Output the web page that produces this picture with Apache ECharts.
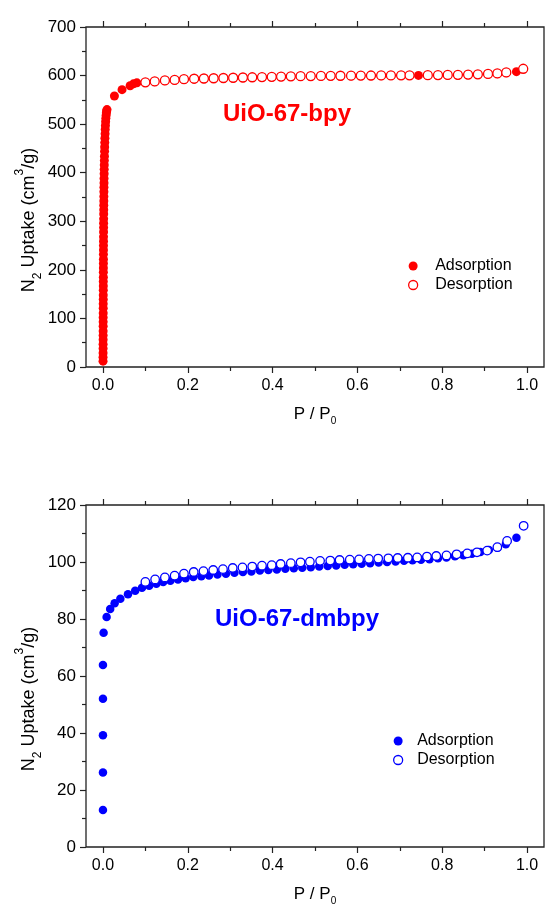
<!DOCTYPE html>
<html>
<head>
<meta charset="utf-8">
<script src="https://cdn.jsdelivr.net/npm/echarts@6/dist/echarts.min.js"></script>
<style>
  html, body { margin: 0; padding: 0; background: #fff; }
  #chart { width: 545px; height: 914px; }
</style>
</head>
<body>
<div id="chart"></div>
<script>
// N2 isotherms (77 K) for two UiO-67 frameworks

// UiO-67-bpy: adsorption branch
const bpyAdsP = [
  0.0002, 0.0002, 0.0003, 0.0003, 0.0003, 0.0004, 0.0004, 0.0004, 0.0005, 0.0005,
  0.0005, 0.0006, 0.0006, 0.0006, 0.0007, 0.0007, 0.0008, 0.0008, 0.0008, 0.0009,
  0.0009, 0.0010, 0.0010, 0.0011, 0.0011, 0.0012, 0.0012, 0.0013, 0.0013, 0.0014,
  0.0015, 0.0015, 0.0016, 0.0017, 0.0018, 0.0019, 0.0020, 0.0021, 0.0022, 0.0023,
  0.0025, 0.0026, 0.0028, 0.0029, 0.0031, 0.0033, 0.0035, 0.0038, 0.0040, 0.0043,
  0.0046, 0.0050, 0.0054, 0.0058, 0.0063, 0.0068, 0.0074, 0.0080, 0.0087, 0.0095,
  0.027, 0.045, 0.064, 0.072, 0.080,
  0.100, 0.122, 0.146, 0.169, 0.191, 0.215, 0.238, 0.261, 0.284, 0.307,
  0.330, 0.352, 0.375, 0.398, 0.420, 0.443, 0.466, 0.490, 0.514, 0.537,
  0.560, 0.585, 0.608, 0.632, 0.656, 0.679, 0.703, 0.723, 0.744, 0.766,
  0.790, 0.813, 0.837, 0.861, 0.884, 0.908, 0.930, 0.951, 0.975
];
const bpyAdsV = [
  12, 20, 29, 38, 47, 56, 65, 74, 84, 93,
  102, 111, 121, 130, 139, 148, 158, 167, 176, 185,
  195, 204, 213, 222, 232, 241, 250, 259, 268, 278,
  287, 296, 305, 315, 324, 333, 342, 351, 361, 370,
  379, 388, 398, 407, 416, 425, 434, 444, 453, 462,
  471, 480, 489, 497, 505, 512, 518, 523, 527, 530,
  558, 571, 579, 583, 585,
  585.5, 587.5, 589.5, 590.5, 592, 593, 593.5, 594, 594.5, 595,
  595.5, 596, 596.5, 597, 597.5, 598, 598.3, 598.5, 598.7, 598.9,
  599.1, 599.3, 599.5, 599.6, 599.7, 599.9, 600, 600.1, 600.3, 600.3,
  600.5, 600.8, 601.1, 601.5, 602, 602.8, 604, 605.8, 608
];

// UiO-67-bpy: desorption branch
const bpyDesP = [
  0.100, 0.122, 0.146, 0.169, 0.191, 0.215, 0.238, 0.261, 0.284, 0.307,
  0.330, 0.352, 0.375, 0.398, 0.420, 0.443, 0.466, 0.490, 0.514, 0.537,
  0.560, 0.585, 0.608, 0.632, 0.656, 0.679, 0.703, 0.723, 0.766, 0.790,
  0.813, 0.837, 0.861, 0.884, 0.908, 0.930, 0.951, 0.991
];
const bpyDesV = [
  586, 588, 590, 591, 592.5, 593.5, 594, 594.5, 595, 595.5,
  596, 596.5, 597, 597.5, 598, 598.5, 598.8, 599, 599.2, 599.4,
  599.6, 599.8, 600, 600.1, 600.2, 600.4, 600.5, 600.6, 600.8, 601,
  601.3, 601.6, 602, 602.5, 603.3, 604.5, 606.5, 614
];

// UiO-67-dmbpy: adsorption branch
const dmbpyAdsP = [
  0.000, 0.000, 0.000, 0.000, 0.000, 0.0015, 0.0086, 0.017, 0.0275, 0.041,
  0.059, 0.076, 0.092, 0.109, 0.126, 0.142, 0.159, 0.177, 0.195, 0.213,
  0.232, 0.250, 0.270, 0.290, 0.310, 0.330, 0.350, 0.370, 0.390, 0.410,
  0.430, 0.450, 0.470, 0.490, 0.510, 0.530, 0.550, 0.570, 0.590, 0.610,
  0.630, 0.650, 0.670, 0.690, 0.710, 0.730, 0.750, 0.770, 0.790, 0.810,
  0.830, 0.850, 0.870, 0.890, 0.910, 0.930, 0.950, 0.975
];
const dmbpyAdsV = [
  13.0, 26.1, 39.2, 52.0, 63.9, 75.2, 80.7, 83.5, 85.5, 87.1,
  88.7, 89.9, 91.0, 91.7, 92.4, 93.0, 93.4, 93.9, 94.3, 94.7,
  95.0, 95.3, 95.6, 95.9, 96.2, 96.5, 96.7, 97.0, 97.2, 97.4,
  97.6, 97.8, 98.0, 98.2, 98.4, 98.6, 98.8, 99.0, 99.2, 99.4,
  99.6, 99.8, 100.0, 100.2, 100.4, 100.6, 100.8, 101.0, 101.3, 101.6,
  102.0, 102.4, 102.9, 103.5, 104.2, 105.0, 106.2, 108.5
];

// UiO-67-dmbpy: desorption branch
const dmbpyDesP = [
  0.100, 0.123, 0.146, 0.169, 0.191, 0.214, 0.237, 0.260, 0.283, 0.306,
  0.329, 0.352, 0.375, 0.398, 0.419, 0.443, 0.466, 0.488, 0.512, 0.536,
  0.558, 0.582, 0.604, 0.627, 0.649, 0.673, 0.695, 0.719, 0.741, 0.764,
  0.786, 0.810, 0.834, 0.859, 0.882, 0.906, 0.930, 0.953, 0.992
];
const dmbpyDesV = [
  93.0, 93.9, 94.6, 95.2, 95.9, 96.5, 96.8, 97.2, 97.5, 97.9,
  98.1, 98.4, 98.7, 98.9, 99.3, 99.6, 99.9, 100.1, 100.4, 100.5,
  100.7, 100.8, 100.9, 101.1, 101.2, 101.3, 101.4, 101.5, 101.6, 101.9,
  102.1, 102.3, 102.7, 103.0, 103.4, 104.0, 105.2, 107.4, 112.7
];

// Axis ticks
const xMajorTicks = [0.0, 0.2, 0.4, 0.6, 0.8, 1.0];
const xMinorTicks = [0.1, 0.3, 0.5, 0.7, 0.9];
const bpyYMax = 700, bpyYStep = 100;
const dmbpyYMax = 120, dmbpyYStep = 20;

const FONT = '"Liberation Sans", Arial, sans-serif';
const RED = '#ff0000';
const BLUE = '#0000ff';
const INK = '#222';

function pairs(xs, ys) { return xs.map((x, i) => [x, ys[i]]); }

const yNameRich = {
  a: { fontSize: 18, fontFamily: FONT, color: '#000', lineHeight: 30, verticalAlign: 'middle' },
  sub: { fontSize: 12, fontFamily: FONT, color: '#000', lineHeight: 12, verticalAlign: 'bottom' },
  sup: { fontSize: 12, fontFamily: FONT, color: '#000', lineHeight: 12, verticalAlign: 'top' }
};
const xNameRich = {
  a: { fontSize: 17, fontFamily: FONT, color: '#000', lineHeight: 24, verticalAlign: 'middle' },
  sub: { fontSize: 10, fontFamily: FONT, color: '#000', lineHeight: 10, verticalAlign: 'bottom' }
};

// Tick-only x axis (bottom or top edge of the frame)
function tickX(gridIndex, position, values, length) {
  return {
    gridIndex, type: 'value', min: -0.04, max: 1.04, position: position,
    axisLine: { show: false, onZero: false },
    axisTick: { show: true, inside: false, length: length, customValues: values,
      lineStyle: { color: INK, width: 1.2 } },
    axisLabel: { show: false },
    splitLine: { show: false }
  };
}
function mainX(gridIndex) {
  const ax = tickX(gridIndex, 'bottom', xMajorTicks, 6);
  ax.axisLabel = { show: true, customValues: xMajorTicks, margin: 11,
    formatter: v => v.toFixed(1), fontSize: 16, fontFamily: FONT, color: '#000' };
  ax.name = '{a|P / P}{sub|0}';
  ax.nameLocation = 'middle';
  ax.nameGap = 35;
  ax.nameMoveOverlap = false;
  ax.nameTextStyle = { rich: xNameRich };
  return ax;
}
function mainY(gridIndex, max, step) {
  return {
    gridIndex, type: 'value', min: 0, max: max, interval: step, position: 'left',
    axisLine: { show: false, onZero: false },
    axisTick: { show: true, inside: false, length: 6, lineStyle: { color: INK, width: 1.2 } },
    minorTick: { show: true, splitNumber: 2, length: 4, lineStyle: { color: INK, width: 1.2 } },
    axisLabel: { margin: 10, fontSize: 17, fontFamily: FONT, color: '#000' },
    splitLine: { show: false },
    minorSplitLine: { show: false },
    name: '{a|N}{sub|2}{a| Uptake (cm}{sup|3}{a|/g)}',
    nameLocation: 'middle', nameGap: 42, nameRotate: 90, nameMoveOverlap: false,
    nameTextStyle: { rich: yNameRich, padding: [0, 46, 0, 0] }
  };
}

function legendFor(color, left, top, itemWidth) {
  return {
    orient: 'vertical', left: left, top: top, padding: 0,
    itemWidth: itemWidth, itemHeight: 9, itemGap: 3, selectedMode: false,
    textStyle: { fontSize: 16, fontFamily: FONT, color: '#000', lineHeight: 16 },
    data: [
      { name: 'Adsorption', icon: 'circle', itemStyle: { color: color, borderWidth: 0 } },
      { name: 'Desorption', icon: 'circle',
        itemStyle: { color: '#fff', borderColor: color, borderWidth: 1.3 } }
    ]
  };
}

function ads(xi, yi, data, color, size) {
  return {
    name: 'Adsorption', type: 'scatter', xAxisIndex: xi, yAxisIndex: yi,
    data, symbol: 'circle', symbolSize: size, itemStyle: { color: color, opacity: 1 },
    emphasis: { disabled: true }, animation: false
  };
}
function des(xi, yi, data, color, size) {
  return {
    name: 'Desorption', type: 'scatter', xAxisIndex: xi, yAxisIndex: yi,
    data, symbol: 'circle', symbolSize: size,
    itemStyle: { color: '#fff', borderColor: color, borderWidth: 1.3, opacity: 1 },
    emphasis: { disabled: true }, animation: false
  };
}

const frame = { show: true, borderColor: INK, borderWidth: 1.3, backgroundColor: 'transparent',
  outerBoundsMode: 'none', containLabel: false };

const chart = echarts.init(document.getElementById('chart'), null, { renderer: 'canvas' });
chart.setOption({
  animation: false,
  backgroundColor: '#fff',
  grid: [
    Object.assign({ left: 86, top: 27, width: 458, height: 340 }, frame),
    Object.assign({ left: 86, top: 505, width: 458, height: 342 }, frame)
  ],
  xAxis: [
    mainX(0), tickX(0, 'bottom', xMinorTicks, 4),
    tickX(0, 'top', xMajorTicks, 6), tickX(0, 'top', xMinorTicks, 4),
    mainX(1), tickX(1, 'bottom', xMinorTicks, 4),
    tickX(1, 'top', xMajorTicks, 6), tickX(1, 'top', xMinorTicks, 4)
  ],
  yAxis: [mainY(0, bpyYMax, bpyYStep), mainY(1, dmbpyYMax, dmbpyYStep)],
  legend: [
    legendFor(RED, 408, 258, 34),
    legendFor(BLUE, 393, 733, 28)
  ],
  graphic: [
    { type: 'text', x: 287, y: 114,
      style: { text: 'UiO-67-bpy', fill: RED, font: 'bold 24px ' + FONT,
        textAlign: 'center', textVerticalAlign: 'middle' } },
    { type: 'text', x: 297, y: 619,
      style: { text: 'UiO-67-dmbpy', fill: BLUE, font: 'bold 24px ' + FONT,
        textAlign: 'center', textVerticalAlign: 'middle' } }
  ],
  series: [
    ads(0, 0, pairs(bpyAdsP, bpyAdsV), RED, 9),
    des(0, 0, pairs(bpyDesP, bpyDesV), RED, 9),
    ads(4, 1, pairs(dmbpyAdsP, dmbpyAdsV), BLUE, 8.5),
    des(4, 1, pairs(dmbpyDesP, dmbpyDesV), BLUE, 8.5)
  ]
});
</script>
</body>
</html>
